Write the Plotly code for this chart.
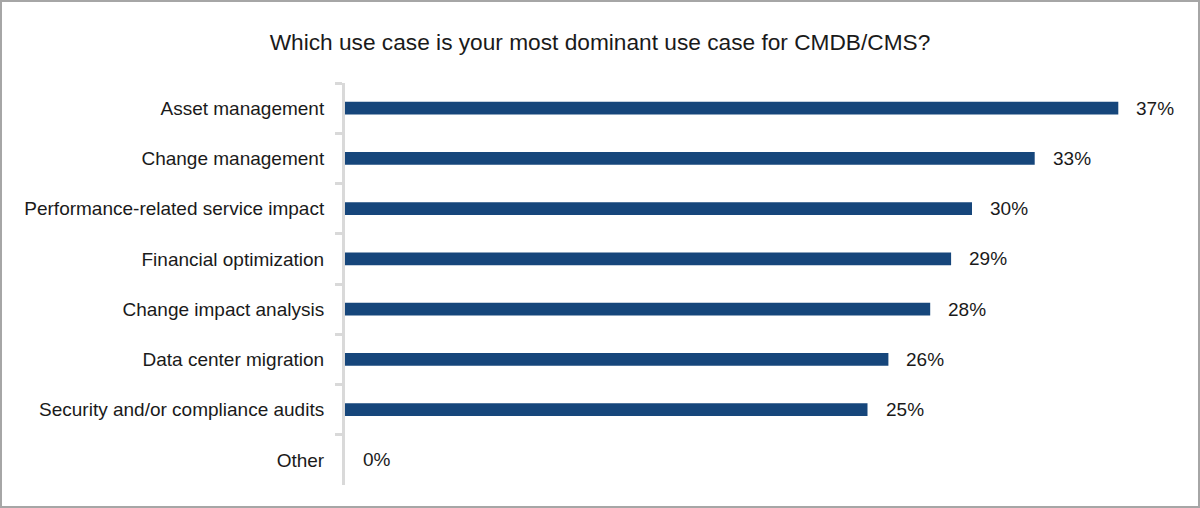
import plotly.graph_objects as go

categories = ["Asset management", "Change management", "Performance-related service impact",
              "Financial optimization", "Change impact analysis", "Data center migration",
              "Security and/or compliance audits", "Other"]
values = [37, 33, 30, 29, 28, 26, 25, 0]
title_text = "Which use case is your most dominant use case for CMDB/CMS?"

BAR_COLOR = "#16467B"
FONT = "Liberation Sans, Arial, sans-serif"

fig = go.Figure()
fig.add_trace(go.Bar(
    x=values, y=categories, orientation="h",
    marker=dict(color=BAR_COLOR, line=dict(width=0)),
    width=0.25, hoverinfo="skip",
))

for c, v in zip(categories, values):
    fig.add_annotation(x=v, y=c, text=f"{v}%", showarrow=False, xanchor="left",
                       xshift=16, font=dict(family=FONT, size=19, color="#1a1a1a"))

fig.update_layout(
    width=1200, height=508,
    margin=dict(l=345, r=19, t=83, b=23),
    paper_bgcolor="white", plot_bgcolor="white",
    showlegend=False,
    title=dict(text=title_text, x=0.5, xanchor="center", xref="container", y=1 - 42 / 508,
               yanchor="middle", font=dict(family=FONT, size=22.7, color="#1a1a1a")),
    xaxis=dict(range=[0, 40], visible=False, fixedrange=True),
    yaxis=dict(categoryorder="array", categoryarray=categories, autorange="reversed",
               showline=True, linecolor="#D9D9D9", linewidth=3, fixedrange=True,
               ticks="outside", tickson="boundaries", ticklen=7, tickwidth=3, tickcolor="#D9D9D9",
               tickfont=dict(family=FONT, size=19, color="#1a1a1a"),
               ticklabelstandoff=14, showgrid=False, zeroline=False),
)

fig.add_shape(type="rect", xref="paper", yref="paper",
              x0=-344 / 836, x1=1 + 18 / 836, y0=-22 / 402, y1=1 + 82 / 402,
              line=dict(color="#A6A6A6", width=2), fillcolor="rgba(0,0,0,0)", layer="above")

fig.write_html("out.html", config={"displayModeBar": False},
               post_script="document.body.style.margin='0';document.body.style.overflow='hidden';")
